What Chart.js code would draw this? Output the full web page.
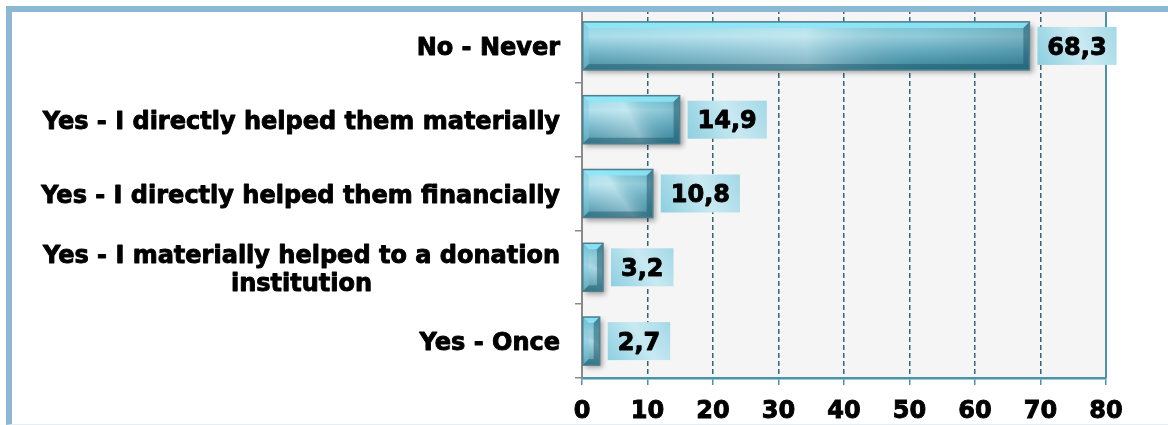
<!DOCTYPE html>
<html>
<head>
<meta charset="utf-8">
<script src="https://cdn.jsdelivr.net/npm/chart.js@4/dist/chart.umd.min.js"></script>
<style>
html,body{margin:0;padding:0;background:#fff;overflow:hidden;}
#wrap{position:absolute;left:0;top:0;width:1168px;height:425px;}
#c{position:absolute;left:0;top:0;}
#frame{position:absolute;left:6px;top:6px;right:0;bottom:0;box-sizing:border-box;border-left:6px solid #8cb8d4;border-top:6px solid #8cb8d4;border-bottom:1px solid #e4eef4;pointer-events:none;}
</style>
</head>
<body>
<div id="wrap">
<canvas id="c" width="1168" height="425"></canvas>
<div id="frame"></div>
</div>
<script>
const categories = [
  'No - Never',
  'Yes - I directly helped them materially',
  'Yes - I directly helped them financially',
  ['Yes - I materially helped to a donation', 'institution'],
  'Yes - Once'
];
const values = [68.3, 14.9, 10.8, 3.2, 2.7];
const valueLabels = ['68,3', '14,9', '10,8', '3,2', '2,7'];
const xMin = 0;
const xMax = 80;
const xStep = 10;

const FONT = '"DejaVu Sans", Verdana, sans-serif';
const FS = 24;
const STROKE = 0.9;

function heavyText(ctx, txt, x, y) {
  ctx.lineWidth = STROKE;
  ctx.strokeStyle = '#000';
  ctx.lineJoin = 'round';
  ctx.strokeText(txt, x, y);
  ctx.fillText(txt, x, y);
}

const bgPlugin = {
  id: 'bg',
  beforeDraw(chart) {
    const {ctx, chartArea: a} = chart;
    ctx.save();
    ctx.fillStyle = '#f5f5f5';
    ctx.fillRect(a.left, a.top, a.right - a.left, a.bottom - a.top);
    ctx.restore();
  },
  beforeDatasetsDraw(chart) {
    const {ctx, chartArea: a} = chart;
    const xs = chart.scales.x;
    const px = xs.getPixelForValue(xMax);
    ctx.save();
    ctx.strokeStyle = '#4a93ab';
    ctx.lineWidth = 2;
    ctx.beginPath();
    ctx.moveTo(px, a.top);
    ctx.lineTo(px, a.bottom);
    ctx.stroke();
    ctx.restore();
  },
  beforeDatasetDraw(chart) {
    const ctx = chart.ctx;
    ctx.save();
    ctx.shadowColor = 'rgba(0,0,0,0.35)';
    ctx.shadowBlur = 5;
    ctx.shadowOffsetX = 3;
    ctx.shadowOffsetY = 3;
  },
  afterDatasetDraw(chart) {
    chart.ctx.restore();
  },
  afterDatasetsDraw(chart) {
    const ctx = chart.ctx;
    const meta = chart.getDatasetMeta(0);
    meta.data.forEach((el, i) => {
      const p = el.getProps(['x', 'y', 'base', 'height'], true);
      const x0 = Math.min(p.base, p.x), x1 = Math.max(p.base, p.x);
      const y0 = p.y - p.height / 2, y1 = p.y + p.height / 2;
      const w = x1 - x0, h = y1 - y0;
      ctx.save();
      let g = ctx.createLinearGradient(0, y0, 0, y1);
      g.addColorStop(0, '#7fcfe2');
      g.addColorStop(0.3, '#a4dbe8');
      g.addColorStop(0.6, '#6fb5c9');
      g.addColorStop(1, '#3a8499');
      ctx.fillStyle = g;
      ctx.fillRect(x0, y0, w, h);
      let g2 = ctx.createLinearGradient(x0, y1, x1, y0);
      g2.addColorStop(0, 'rgba(255,255,255,0.05)');
      g2.addColorStop(0.5, 'rgba(255,255,255,0.35)');
      g2.addColorStop(0.75, 'rgba(40,110,130,0.15)');
      g2.addColorStop(1, 'rgba(20,80,100,0.3)');
      ctx.fillStyle = g2;
      ctx.fillRect(x0, y0, w, h);
      const b = Math.min(6, w / 2, h / 2);
      const poly = (pts, col) => {
        ctx.beginPath();
        ctx.moveTo(pts[0][0], pts[0][1]);
        for (let k = 1; k < pts.length; k++) ctx.lineTo(pts[k][0], pts[k][1]);
        ctx.closePath();
        ctx.fillStyle = col;
        ctx.fill();
      };
      poly([[x0, y0], [x1, y0], [x1 - b, y0 + b], [x0 + b, y0 + b]], 'rgba(140,232,248,0.85)');
      poly([[x0, y1], [x1, y1], [x1 - b, y1 - b], [x0 + b, y1 - b]], 'rgba(25,85,105,0.45)');
      poly([[x0, y0], [x0 + b, y0 + b], [x0 + b, y1 - b], [x0, y1]], 'rgba(120,205,225,0.45)');
      poly([[x1, y0], [x1 - b, y0 + b], [x1 - b, y1 - b], [x1, y1]], 'rgba(25,85,105,0.5)');
      ctx.strokeStyle = '#4f7f8e';
      ctx.lineWidth = 1.5;
      ctx.strokeRect(x0, y0, w, h);
      ctx.restore();

      ctx.save();
      ctx.font = 'bold ' + FS + 'px ' + FONT;
      const txt = valueLabels[i];
      const tw = ctx.measureText(txt).width;
      const bw = tw + 20, bh = 38;
      const bx = x1 + 8, by = p.y - bh / 2;
      const lg = ctx.createLinearGradient(bx, by + bh, bx + bw, by);
      lg.addColorStop(0, '#8ccfe0');
      lg.addColorStop(0.55, '#c9e9f2');
      lg.addColorStop(1, '#a3d8e6');
      ctx.fillStyle = lg;
      ctx.fillRect(bx, by, bw, bh);
      ctx.fillStyle = '#000';
      ctx.textAlign = 'center';
      ctx.textBaseline = 'middle';
      heavyText(ctx, txt, bx + bw / 2, p.y + 2.5);
      ctx.restore();
    });
  },
  afterDraw(chart) {
    const ctx = chart.ctx;
    const ys = chart.scales.y;
    const right = 560;
    const lh = 28;
    ctx.save();
    ctx.font = 'bold ' + FS + 'px ' + FONT;
    ctx.fillStyle = '#000';
    ctx.textBaseline = 'middle';
    ctx.textAlign = 'center';
    categories.forEach((lab, i) => {
      const lines = Array.isArray(lab) ? lab : [lab];
      const mw = Math.max(...lines.map(l => ctx.measureText(l).width));
      const cx = right - mw / 2;
      const cy = ys.getPixelForValue(i);
      const startY = cy - (lines.length - 1) * lh / 2;
      lines.forEach((l, k) => heavyText(ctx, l, cx, startY + k * lh + 3));
    });
    ctx.restore();
  }
};

new Chart(document.getElementById('c'), {
  type: 'bar',
  data: {
    labels: categories,
    datasets: [{
      data: values,
      backgroundColor: '#5aa9bf',
      borderWidth: 0,
      barThickness: 48
    }]
  },
  options: {
    indexAxis: 'y',
    responsive: false,
    animation: false,
    devicePixelRatio: 1,
    layout: {padding: {top: 9, right: 62, left: 0, bottom: 0}},
    plugins: {legend: {display: false}, tooltip: {enabled: false}},
    scales: {
      x: {
        type: 'linear',
        position: 'bottom',
        min: xMin,
        max: xMax,
        ticks: {
          stepSize: xStep,
          color: '#000',
          padding: 12,
          textStrokeColor: '#000',
          textStrokeWidth: STROKE,
          font: {family: FONT, size: FS, weight: 'bold'}
        },
        grid: {
          color: (c) => (c.tick && (c.tick.value === xMin || c.tick.value === xMax)) ? 'rgba(0,0,0,0)' : '#2f6679',
          lineWidth: 1.5,
          tickColor: '#4a93ab',
          tickLength: 7,
          drawTicks: true
        },
        border: {display: true, color: '#4a93ab', width: 2.5, dash: [5, 3]},
        afterFit: (s) => { s.height = 47; }
      },
      y: {
        type: 'category',
        position: 'left',
        offset: true,
        ticks: {callback: () => '', padding: 0},
        grid: {drawOnChartArea: false, drawTicks: true, tickLength: 7, color: '#8a8a8a', offset: true, lineWidth: 1.5},
        border: {display: true, color: '#8a8a8a', width: 2},
        afterFit: (s) => { s.width = 582; }
      }
    }
  },
  plugins: [bgPlugin]
});
</script>
</body>
</html>
